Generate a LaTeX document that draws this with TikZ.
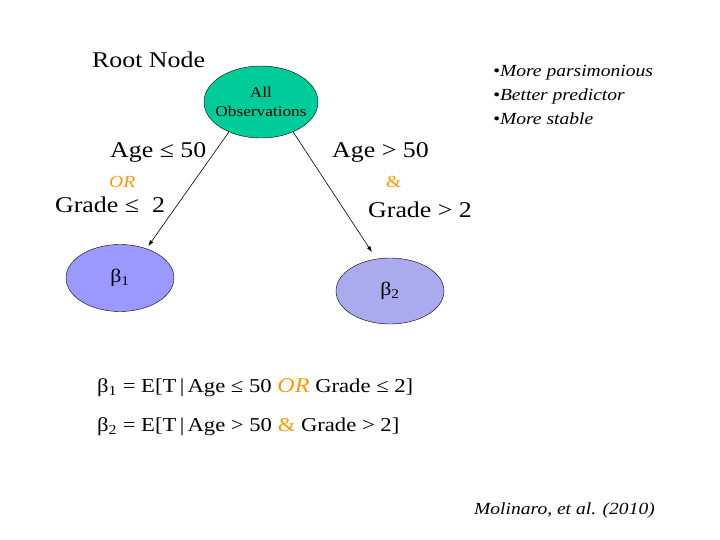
\documentclass[tikz,border=0pt]{standalone}
\usepackage{fontspec}
\setmainfont[FakeStretch=1.15]{Liberation Serif}
\usetikzlibrary{arrows.meta,shapes.geometric}
\definecolor{rootgreen}{HTML}{00CC99}
\definecolor{leafblue}{HTML}{9999FF}
\definecolor{leaflilac}{HTML}{AAAAEE}
\definecolor{splitorange}{HTML}{FF9900}
\newcommand{\orword}{\textcolor{splitorange}{\textit{OR}}}
\newcommand{\andword}{\textcolor{splitorange}{\&}}

\begin{document}
\begin{tikzpicture}[
  x=1pt, y=-1pt,
  % Pixel grid of the slide: origin top left, y runs down.
  treenode/.style={ellipse, draw, thin, inner sep=0pt, align=center},
  leaf/.style={treenode, minimum width=108pt, minimum height=67pt,
               font=\fontsize{19}{22}\selectfont},
  lbl/.style={anchor=base west, inner sep=0pt, font=\fontsize{22.5}{26}\selectfont},
  andor/.style={anchor=base west, inner sep=0pt, text=splitorange,
                font=\fontsize{17}{20}\selectfont},
  eq/.style={anchor=base west, inner sep=0pt, font=\fontsize{19.7}{22}\selectfont},
  note/.style={anchor=base west, inner sep=0pt, font=\fontsize{17}{20}\selectfont\itshape},
  arr/.style={-{Latex[length=6pt,width=4pt]}, semithick}
]
\useasboundingbox (0,0) rectangle (720,540);

\node[treenode, fill=rootgreen, minimum width=114pt, minimum height=72pt] (root) at (261,102) {};
\node[align=center, inner sep=0pt, font=\fontsize{15}{19}\selectfont] (roottext) at (root) {All\\Observations};
\node[leaf, fill=leafblue] (bone) at (120,278) {β\textsubscript{1}};
\node[leaf, fill=leaflilac, minimum height=66pt] (btwo) at (390,291) {β\textsubscript{2}};

\node[lbl] (rootlbl) at (92,67.5) {Root Node};
\node[lbl] (ageleft) at (110,158) {Age ≤ 50};
\node[andor, font=\fontsize{17}{20}\selectfont\itshape] (orlbl) at (109,188) {OR};
\node[lbl] (gradeleft) at (55,212) {Grade ≤\ \ 2};
\node[lbl] (ageright) at (332,157.5) {Age > 50};
\node[andor] (andlbl) at (386,188) {\&};
\node[lbl] (graderight) at (368,217.5) {Grade > 2};

\node[note] (noteone) at (493,77) {•More parsimonious};
\node[note] (notetwo) at (493,101) {•Better predictor};
\node[note] (notethree) at (493,125) {•More stable};

\node[eq] (eqone) at (97,392) {β\textsubscript{1} = E[T\,|\,Age ≤ 50 {\fontsize{21}{22}\selectfont\orword} Grade ≤ 2]};
\node[eq] (eqtwo) at (97,431) {β\textsubscript{2} = E[T\,|\,Age > 50 \andword{} Grade > 2]};

\node[note, anchor=base east] (cite) at (655,514) {Molinaro, et al. (2010)};

\draw[arr, shorten >=3pt] (root.223) -- (bone.48);
\draw[arr, shorten >=8pt] (root.317) -- (btwo.113);
\end{tikzpicture}
\end{document}
